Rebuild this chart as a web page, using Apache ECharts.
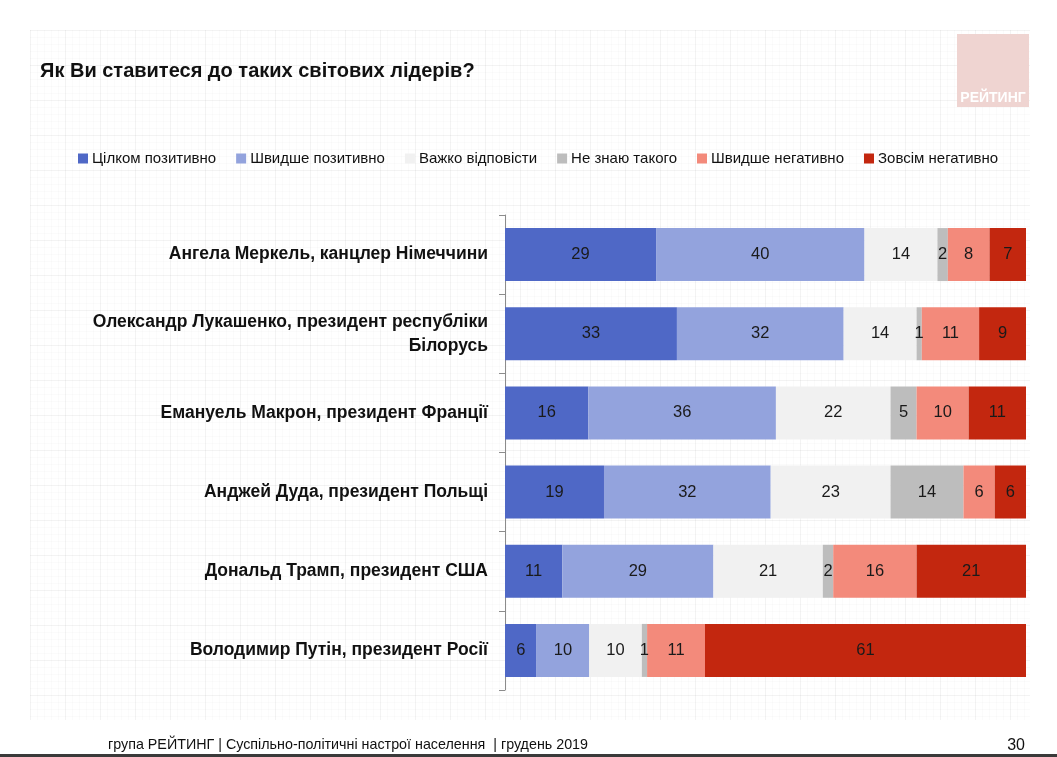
<!DOCTYPE html>
<html><head><meta charset="utf-8">
<script src="https://cdn.jsdelivr.net/npm/echarts@6/dist/echarts.min.js"></script>
<style>
html,body{margin:0;padding:0;background:#fff;}
#bg{position:absolute;left:30px;top:30px;width:1000px;height:690px;
background-image:
 linear-gradient(rgba(0,0,0,0.03) 1px,transparent 1px),
 linear-gradient(90deg,rgba(0,0,0,0.03) 1px,transparent 1px),
 linear-gradient(rgba(0,0,0,0.015) 1px,transparent 1px),
 linear-gradient(90deg,rgba(0,0,0,0.015) 1px,transparent 1px);
background-size:35px 35px,35px 35px,7px 7px,7px 7px;}
#c{position:absolute;left:0;top:0;width:1057px;height:757px;}
</style></head>
<body><div id="bg"></div><div id="c"></div>
<script>
const categories = [
  'Ангела Меркель, канцлер Німеччини',
  'Олександр Лукашенко, президент республіки\nБілорусь',
  'Емануель Макрон, президент Франції',
  'Анджей Дуда, президент Польщі',
  'Дональд Трамп, президент США',
  'Володимир Путін, президент Росії'
];
const seriesNames = ['Цілком позитивно','Швидше позитивно','Важко відповісти','Не знаю такого','Швидше негативно','Зовсім негативно'];
const fullyPositive   = [29, 33, 16, 19, 11, 6];
const ratherPositive  = [40, 32, 36, 32, 29, 10];
const hardToSay       = [14, 14, 22, 23, 21, 10];
const dontKnow        = [2, 1, 5, 14, 2, 1];
const ratherNegative  = [8, 11, 10, 6, 16, 11];
const fullyNegative   = [7, 9, 11, 6, 21, 61];
const titleText = 'Як Ви ставитеся до таких світових лідерів?';
const footerText = 'група РЕЙТИНГ | Суспільно-політичні настрої населення  | грудень 2019';
const pageNumber = '30';
const logoText = 'РЕЙТИНГ';

const colors = ['#4F68C6','#93A3DD','#F1F1F1','#BDBDBD','#F38A7B','#C3270F'];
const allValues = [fullyPositive, ratherPositive, hardToSay, dontKnow, ratherNegative, fullyNegative];
const totals = categories.map((c,i)=>allValues.reduce((s,a)=>s+a[i],0));

const chart = echarts.init(document.getElementById('c'));
chart.setOption({
  animation:false,
  textStyle:{fontFamily:'Liberation Sans, Arial, sans-serif'},
  title:{text:titleText,left:35,top:56,textStyle:{fontSize:20,fontWeight:'bold',color:'#111',fontFamily:'Liberation Sans, Arial, sans-serif'}},
  legend:{data:seriesNames,left:73,top:146,itemWidth:10,itemHeight:10,itemGap:20,icon:'rect',
    textStyle:{fontSize:15,color:'#111',padding:[0,0,0,-1]}},
  grid:{left:505,right:31,top:215,bottom:67,containLabel:false},
  xAxis:{type:'value',min:0,max:100,show:false},
  yAxis:{type:'category',data:categories,inverse:true,
    axisLine:{show:true,lineStyle:{color:'#8c8c8c'}},
    axisTick:{show:true,alignWithLabel:false,length:6,lineStyle:{color:'#8c8c8c'}},
    axisLabel:{fontSize:17.5,fontWeight:'bold',color:'#111',margin:17,lineHeight:24}},
  graphic:[
    {type:'rect',shape:{x:957,y:34,width:72,height:73},style:{fill:'#EFD4D1'}},
    {type:'text',style:{x:993,y:98,text:logoText,fill:'#fff',font:'bold 14px Liberation Sans, Arial',textAlign:'center',textVerticalAlign:'middle'}},
    {type:'text',style:{x:108,y:745,text:footerText,fill:'#111',font:'14.3px Liberation Sans Narrow, Liberation Sans, Arial',textVerticalAlign:'middle'}},
    {type:'text',style:{x:1025,y:746,text:pageNumber,fill:'#111',font:'16px Liberation Sans Narrow, Liberation Sans, Arial',textAlign:'right',textVerticalAlign:'middle'}},
    {type:'rect',shape:{x:0,y:754,width:1057,height:3},style:{fill:'#3a3a3a'}}
  ],
  series: seriesNames.map((name,si)=>({
    name,type:'bar',stack:'total',barWidth:53,
    itemStyle:{color:colors[si]},
    label:{show:true,position:'inside',fontSize:16.5,color:'#1a1a1a',
      formatter:p=>String(allValues[si][p.dataIndex])},
    data: allValues[si].map((v,i)=>v/totals[i]*100)
  }))
});
</script></body></html>
